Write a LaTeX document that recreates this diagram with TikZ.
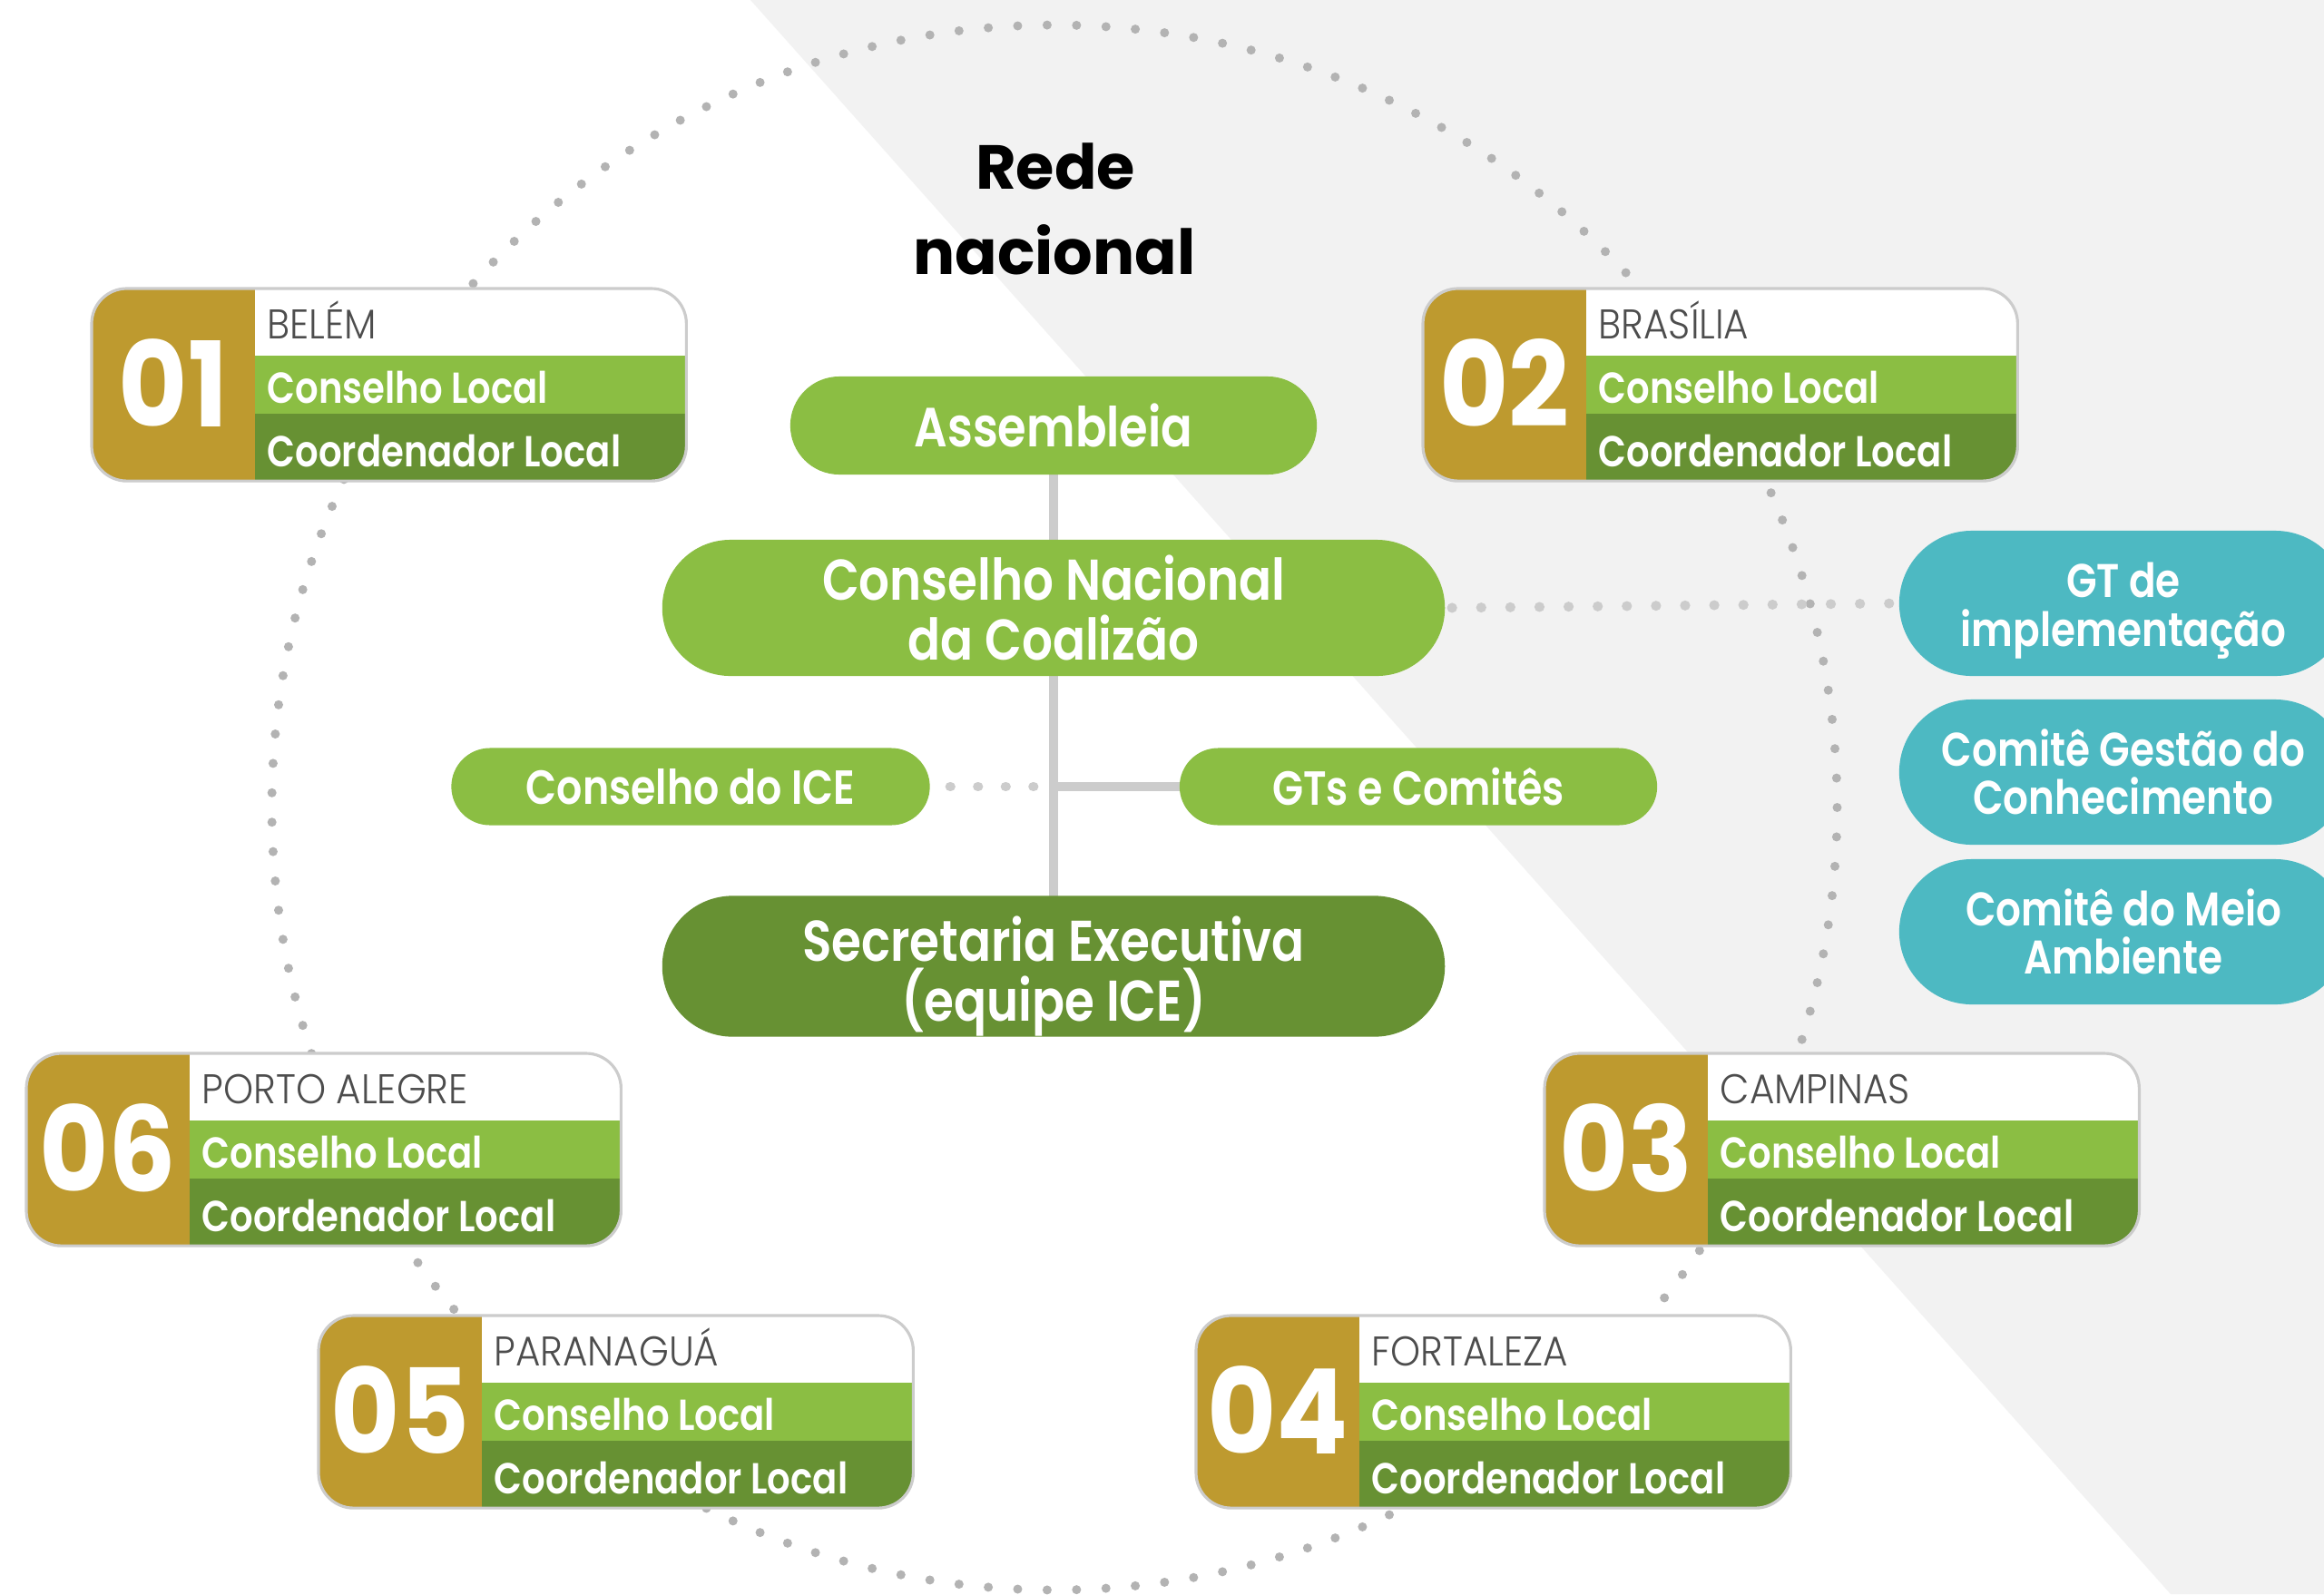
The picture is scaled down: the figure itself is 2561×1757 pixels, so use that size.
\documentclass[tikz,border=0pt]{standalone}
\usepackage{fontspec}
\usetikzlibrary{shapes.misc}
\newfontfamily\fmed[FakeStretch=0.84]{Poppins SemiBold}
\newfontfamily\flight[FakeStretch=0.92]{Poppins Light}
\newfontfamily\fbold{Poppins Bold}
\newfontfamily\fnum[FakeStretch=0.9]{Poppins Bold}
\definecolor{lgreen}{RGB}{139,190,67}
\definecolor{dgreen}{RGB}{103,145,51}
\definecolor{gold}{RGB}{190,154,47}
\definecolor{teal}{RGB}{77,185,194}
\definecolor{bggray}{RGB}{242,242,242}
\definecolor{linegray}{RGB}{204,204,204}
\definecolor{circdot}{RGB}{179,179,179}
\definecolor{citygray}{RGB}{77,77,77}
\pgfdeclarelayer{back}
\pgfdeclarelayer{conn}
\pgfsetlayers{back,conn,main}
\tikzset{
  cityframe/.style={draw=linegray, line width=0.9pt, rounded corners=11pt,
    minimum width=6.55cm, minimum height=2.12cm, inner sep=0pt, outer sep=0pt},
  numtxt/.style={text=white, inner sep=0pt, font=\fnum\fontsize{37}{37}\selectfont},
  citytxt/.style={text=citygray, inner sep=0pt, font=\flight\fontsize{13}{14}\selectfont},
  rowtxt/.style={text=white, inner sep=0pt, font=\fmed\fontsize{13.6}{15}\selectfont},
  titletxt/.style={text=black, inner sep=0pt, font=\fbold\fontsize{19.5}{22}\selectfont},
  pill/.style={rounded rectangle, inner sep=0pt, align=center, text=white},
  bigtxt/.style={font=\fmed\fontsize{18}{19}\selectfont},
  midtxt/.style={font=\fmed\fontsize{15}{17}\selectfont},
  tealtxt/.style={font=\fmed\fontsize{14.8}{15.2}\selectfont},
  vline/.style={draw=linegray, line width=2.85pt},
  dotl/.style={draw=linegray, line width=3.1pt, line cap=round},
}
\newcommand\citybox[5]{%
  \begin{scope}
    \clip[rounded corners=11pt] (#2,#3) rectangle ++(655,212);
    \fill[gold] (#2,#3) rectangle ++(180,212);
    \fill[white] (#2+180,#3) rectangle ++(475,74);
    \fill[lgreen] (#2+180,#3+74) rectangle ++(475,64);
    \fill[dgreen] (#2+180,#3+138) rectangle ++(475,74);
  \end{scope}
  \node[cityframe, anchor=north west] (#1) at (#2,#3) {};
  \node[numtxt, anchor=base] (#1-num) at (#2+90,#3+152) {#4};
  \node[citytxt, anchor=base west] (#1-city) at (#2+193,#3+55) {#5};
  \node[rowtxt, anchor=base west] (#1-cl) at (#2+193,#3+126) {Conselho Local};
  \node[rowtxt, anchor=base west] (#1-cd) at (#2+193,#3+196) {Coordenador Local};
}
\begin{document}
\begin{tikzpicture}[x=0.01cm, y=-0.01cm]
\useasboundingbox (0,0) rectangle (2561,1757);
\begin{pgfonlayer}{back}
  \fill[white] (0,0) rectangle (2561,1757);
  \fill[bggray] (827,0) -- (2561,0) -- (2561,1757) -- (2392,1757) -- cycle;
  \coordinate (cc) at (1162,890);
  \foreach \k in {0,...,166}
    \fill[circdot] ([shift={({\k*2.155689}:8.62cm)}]cc) circle[radius=0.05cm];
\end{pgfonlayer}

% title
\node[titletxt, anchor=base] (title1) at (1163,208) {Rede};
\node[titletxt, anchor=base] (title2) at (1162,302) {nacional};

% central pills
\node[pill, fill=lgreen, minimum width=5.8cm, minimum height=1.08cm,
  font=\fmed\fontsize{17.3}{19}\selectfont] (A) at (1161,469) {Assembleia};
\node[pill, bigtxt, fill=lgreen, minimum width=8.62cm, minimum height=1.5cm]
  (CN) at (1161,670) {Conselho Nacional\\da Coalizão};
\node[pill, midtxt, fill=lgreen, minimum width=5.27cm, minimum height=0.85cm]
  (ICE) at (761,867) {Conselho do ICE};
\node[pill, midtxt, fill=lgreen, minimum width=5.26cm, minimum height=0.85cm]
  (GTs) at (1563,867) {GTs e Comitês};
\node[pill, bigtxt, fill=dgreen, minimum width=8.62cm, minimum height=1.5cm]
  (Sec) at (1161,1065) {\rule{0pt}{20.4pt}Secretaria Executiva\\(equipe ICE)};

% teal pills
\node[pill, tealtxt, fill=teal, minimum width=4.94cm, minimum height=1.6cm]
  (T1) at (2340,665) {\rule{0pt}{15.6pt}GT de\\implementação};
\node[pill, tealtxt, fill=teal, minimum width=4.94cm, minimum height=1.6cm]
  (T2) at (2340,851) {Comitê Gestão do\\Conhecimento};
\node[pill, tealtxt, fill=teal, minimum width=4.94cm, minimum height=1.6cm]
  (T3) at (2340,1027) {Comitê do Meio\\Ambiente};

% city boxes
\citybox{c1}{101}{318}{01}{BELÉM}
\citybox{c2}{1568}{318}{02}{BRASÍLIA}
\citybox{c6}{29}{1161}{06}{PORTO ALEGRE}
\citybox{c3}{1702}{1161}{03}{CAMPINAS}
\citybox{c5}{351}{1450}{05}{PARANAGUÁ}
\citybox{c4}{1318}{1450}{04}{FORTALEZA}

% connectors
\begin{pgfonlayer}{conn}
  \draw[vline] (A.center) -- (Sec.center);
  \draw[vline] (GTs.center) -- (GTs.center -| A.center);
  \draw[dotl, dash pattern=on 0.1pt off 8.58pt, dash phase=2.51pt]
    (ICE.east) -- (ICE.east -| A.center);
  \draw[dotl, dash pattern=on 0.1pt off 9.03pt, dash phase=7.14pt]
    (CN.east) -- (T1.west);
\end{pgfonlayer}
\end{tikzpicture}
\end{document}
